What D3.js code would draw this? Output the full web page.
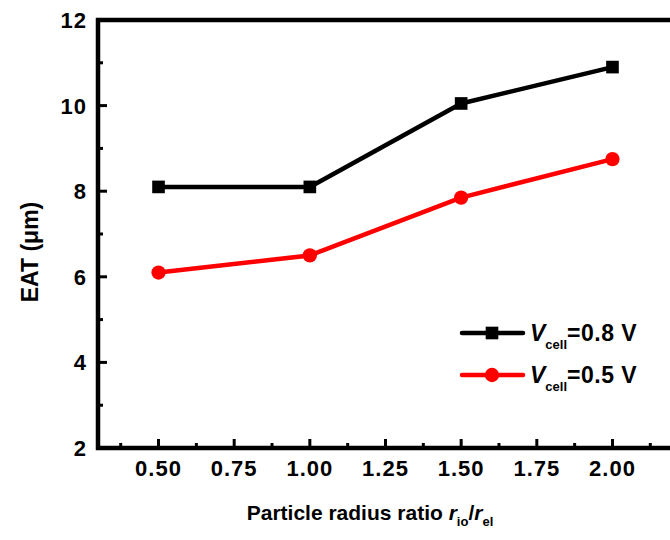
<!DOCTYPE html>
<html>
<head>
<meta charset="utf-8">
<script src="https://cdn.jsdelivr.net/npm/d3@7.9.0/dist/d3.min.js"></script>
<style>
  html, body { margin: 0; padding: 0; background: #fff; overflow: hidden; }
  svg { display: block; font-family: "Liberation Sans", Arial, sans-serif; font-weight: bold; }
</style>
</head>
<body>
<svg id="chart" width="670" height="540"></svg>
<script>
const ratios = [0.5, 1.0, 1.5, 2.0];
const eat08 = [8.1, 8.1, 10.05, 10.9];
const eat05 = [6.1, 6.5, 7.85, 8.75];
const xTicks = [0.5, 0.75, 1.0, 1.25, 1.5, 1.75, 2.0];
const yTicks = [2, 4, 6, 8, 10, 12];

const svg = d3.select('#chart');
const plotLeft = 98, plotTop = 20, plotBottom = 448;

const x = d3.scaleLinear().domain([0.3, 2.2]).range([plotLeft, plotLeft + 575]);
const y = d3.scaleLinear().domain([2, 12]).range([plotBottom, plotTop]);

// frame
svg.append('rect')
  .attr('x', x(0.3)).attr('y', y(12))
  .attr('width', x(2.2) - x(0.3)).attr('height', y(2) - y(12))
  .attr('fill', 'none').attr('stroke', '#000').attr('stroke-width', 4.5);

// minor ticks
const xMinor = d3.range(0.375, 2.2, 0.25);
const yMinor = d3.range(3, 12, 2);

const g = svg.append('g');
g.selectAll('.xmaj').data(xTicks).join('line')
  .attr('x1', d => x(d)).attr('x2', d => x(d))
  .attr('y1', plotBottom).attr('y2', plotBottom - 9)
  .attr('stroke', '#000').attr('stroke-width', 3);
g.selectAll('.xmin').data(xMinor).join('line')
  .attr('x1', d => x(d)).attr('x2', d => x(d))
  .attr('y1', plotBottom).attr('y2', plotBottom - 5)
  .attr('stroke', '#000').attr('stroke-width', 3);
g.selectAll('.ymaj').data(yTicks).join('line')
  .attr('x1', plotLeft).attr('x2', plotLeft + 9)
  .attr('y1', d => y(d)).attr('y2', d => y(d))
  .attr('stroke', '#000').attr('stroke-width', 3);
g.selectAll('.ymin').data(yMinor).join('line')
  .attr('x1', plotLeft).attr('x2', plotLeft + 5)
  .attr('y1', d => y(d)).attr('y2', d => y(d))
  .attr('stroke', '#000').attr('stroke-width', 3);

// tick labels
svg.append('g').selectAll('text').data(xTicks).join('text')
  .attr('x', d => x(d)).attr('y', plotBottom + 28)
  .attr('text-anchor', 'middle').attr('font-size', 22)
  .attr('letter-spacing', 1)
  .text(d => d.toFixed(2));
svg.append('g').selectAll('text').data(yTicks).join('text')
  .attr('x', 87).attr('y', d => y(d) + 8)
  .attr('text-anchor', 'end').attr('font-size', 22)
  .attr('letter-spacing', 1)
  .text(d => d);

// axis titles
const xt = svg.append('text')
  .attr('x', 370).attr('y', 520)
  .attr('text-anchor', 'middle').attr('font-size', 21);
xt.append('tspan').text('Particle radius ratio ');
xt.append('tspan').attr('font-style', 'italic').text('r');
xt.append('tspan').attr('font-size', 13).attr('dy', 6).text('io');
xt.append('tspan').attr('dy', -6).text('/');
xt.append('tspan').attr('font-style', 'italic').text('r');
xt.append('tspan').attr('font-size', 13).attr('dy', 6).text('el');

svg.append('text')
  .attr('transform', 'translate(38,252) rotate(-90)')
  .attr('text-anchor', 'middle').attr('font-size', 23)
  .text('EAT (\u03bcm)');

// series
const series = [
  { name: '0.8', vals: eat08, color: '#000', shape: d3.symbolSquare },
  { name: '0.5', vals: eat05, color: '#ff0000', shape: d3.symbolCircle }
];
const line = d3.line().x((d, i) => x(ratios[i])).y(d => y(d));

series.forEach(s => {
  svg.append('path').datum(s.vals)
    .attr('d', line).attr('fill', 'none')
    .attr('stroke', s.color).attr('stroke-width', 4.5)
    .attr('stroke-linejoin', 'round');
  svg.append('g').selectAll('path').data(s.vals).join('path')
    .attr('transform', (d, i) => `translate(${x(ratios[i])},${y(d)})`)
    .attr('d', d3.symbol(s.shape, 160))
    .attr('fill', s.color);
});

// legend
const legY = [333, 375];
series.forEach((s, i) => {
  const lg = svg.append('g').attr('transform', `translate(0,${legY[i]})`);
  lg.append('line').attr('x1', 462).attr('x2', 523).attr('y1', 0).attr('y2', 0)
    .attr('stroke', s.color).attr('stroke-width', 4.5).attr('stroke-linecap', 'round');
  lg.append('path').attr('transform', 'translate(492,0)')
    .attr('d', d3.symbol(s.shape, 160))
    .attr('fill', s.color);
  const t = lg.append('text').attr('x', 530).attr('y', 8).attr('font-size', 23);
  t.append('tspan').attr('font-style', 'italic').text('V');
  t.append('tspan').attr('font-size', 13).attr('dy', 8).text('cell');
  t.append('tspan').attr('dy', -8).attr('letter-spacing', 0.5).text(`=${s.name} V`);
});
</script>
</body>
</html>
